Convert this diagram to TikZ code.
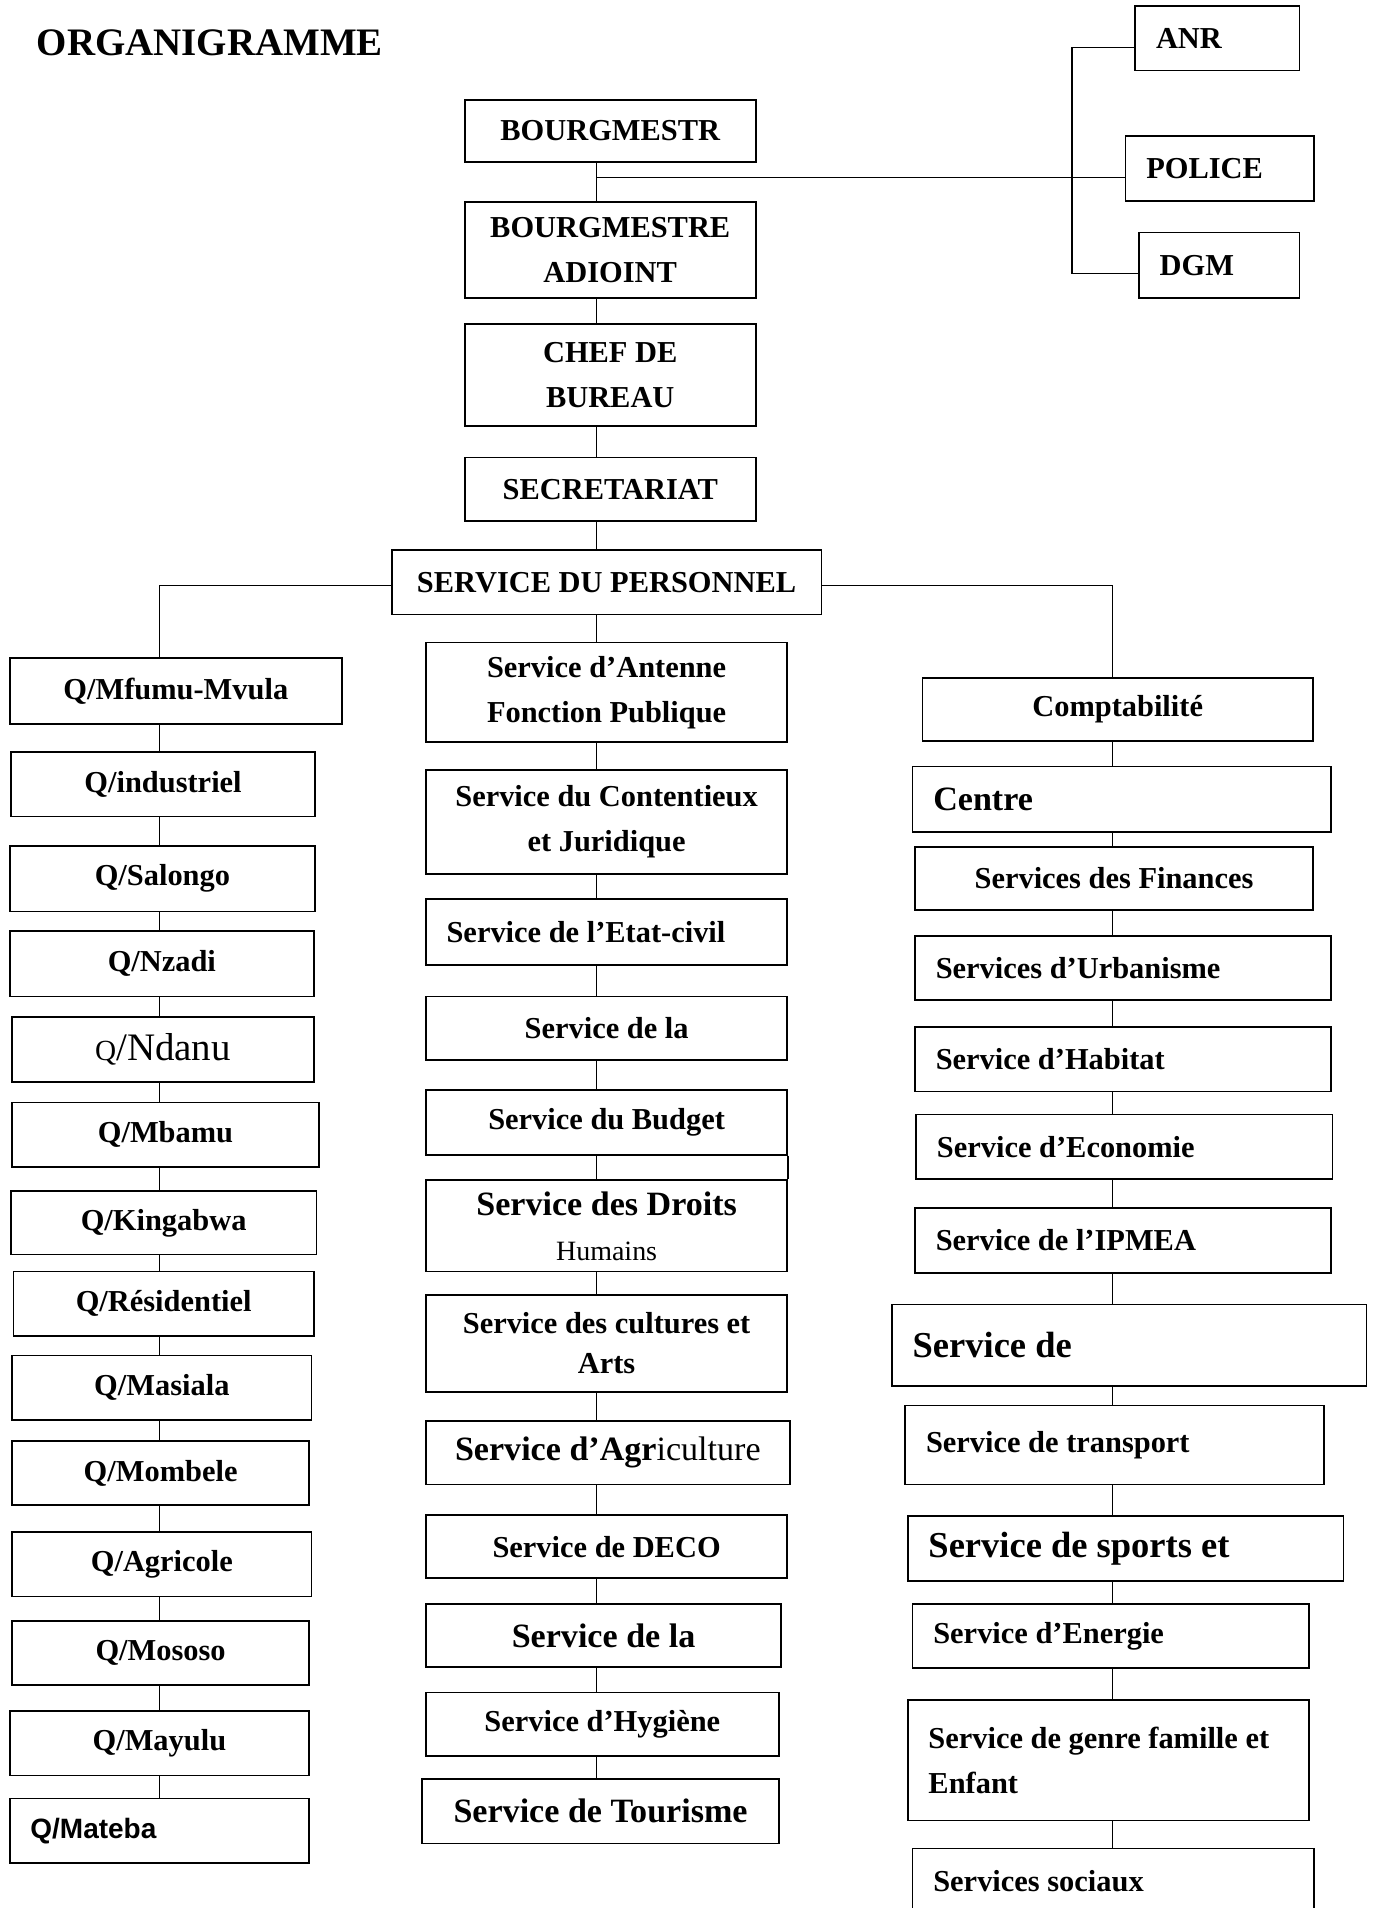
\documentclass[tikz,border=0pt]{standalone}
\usepackage{fontspec}
\setmainfont{Liberation Serif}
\setsansfont{Liberation Sans}

\begin{document}
\begin{tikzpicture}[
  x=1pt, y=-1pt,
  box/.style 2 args={draw, line width=1.4pt, inner sep=0pt, minimum width=#1, minimum height=#2, align=center, font=\bfseries\fontsize{25}{37}\selectfont},
  lbox/.style 2 args={box={#1}{#2}, text width=#1-34, align=flush left},
  big/.style={font=\bfseries\fontsize{28}{37}\selectfont},
  link/.style={line width=1.1pt},
]
  \useasboundingbox (0,0) rectangle (1131,1568);

  % Title
  \node[font=\bfseries\fontsize{32}{32}\selectfont, anchor=west, inner sep=0pt] (title) at (30,35) {ORGANIGRAMME};

  % Top of the chart
  \node[box={239}{51}] (bourg) at (501.5,107.5) {BOURGMESTR};
  \node[box={239}{79}] (adjoint) at (501.5,205.5) {BOURGMESTRE\\ADIOINT};
  \node[box={239}{84}] (chef) at (501.5,308) {CHEF DE\\BUREAU};
  \node[box={239}{52}] (secret) at (501.5,402) {SECRETARIAT};
  \node[box={353}{53}] (perso) at (498.5,478.5) {SERVICE DU PERSONNEL};

  \node[lbox={135}{53}] (anr) at (1000.5,31.5) {ANR};
  \node[lbox={155}{53}] (police) at (1002.5,138.5) {POLICE};
  \node[lbox={132}{54}] (dgm) at (1002,218) {DGM};

  % Quartiers
  \node[box={273}{54}] (mfumu) at (144.5,568) {Q/Mfumu-Mvula};
  \node[box={250}{53}] (indus) at (134,644.5) {Q/industriel};
  \node[box={251}{54}] (salongo) at (133.5,722) {Q/Salongo};
  \node[box={250}{54}] (nzadi) at (133,792) {Q/Nzadi};
  \node[box={248}{53}, font=\fontsize{32}{32}\selectfont] (ndanu) at (134,862.5) {{\fontsize{24}{24}\selectfont Q}/Ndanu};
  \node[box={252}{53}] (mbamu) at (136,932.5) {Q/Mbamu};
  \node[box={251}{52}] (kinga) at (134.5,1005) {Q/Kingabwa};
  \node[box={247}{53}] (resid) at (134.5,1071.5) {Q/Résidentiel};
  \node[box={246}{53}] (masiala) at (133,1140.5) {Q/Masiala};
  \node[box={244}{53}] (mombele) at (132,1210.5) {Q/Mombele};
  \node[box={246}{53}] (agricole) at (133,1285.5) {Q/Agricole};
  \node[box={244}{53}] (mososo) at (132,1358.5) {Q/Mososo};
  \node[box={246}{53}] (mayulu) at (131,1432.5) {Q/Mayulu};
  \node[lbox={246}{53}, font=\sffamily\bfseries\fontsize{23}{23}\selectfont] (mateba) at (131,1504.5) {Q/Mateba};

  % Services (middle)
  \node[box={297}{82}] (antenne) at (498.5,569) {Service d’Antenne\\Fonction Publique};
  \node[box={297}{85}] (content) at (498.5,675.5) {Service du Contentieux\\et Juridique};
  \node[lbox={297}{54}] (etat) at (498.5,766) {Service de l’Etat-civil};
  \node[box={297}{52}] (lala) at (498.5,845) {Service de la};
  \node[box={297}{53}] (budget) at (498.5,922.5) {Service du Budget};
  \node[box={297}{75}] (droits) at (498.5,1007.5) {{\fontsize{28}{32}\selectfont Service des Droits}\\{\mdseries\fontsize{23}{32}\selectfont Humains}};
  \node[box={297}{80}, font=\bfseries\fontsize{25}{33}\selectfont] (cultures) at (498.5,1104) {Service des cultures et\\Arts};
  \node[box={299}{52}, big] (agri) at (499.5,1194) {Service d’Agr{\mdseries iculture}};
  \node[box={297}{52}] (deco) at (498.5,1271) {Service de DECO};
  \node[box={292}{52}, big] (lalab) at (496,1344) {Service de la};
  \node[box={290}{52}] (hygiene) at (495,1417) {Service d’Hygiène};
  \node[box={293}{53}, big] (tourisme) at (493.5,1488.5) {Service de Tourisme};

  % Services (right)
  \node[box={321}{52}] (compta) at (918.5,583) {Comptabilité};
  \node[lbox={344}{54}, big] (centre) at (922,657) {Centre};
  \node[box={327}{52}] (finances) at (915.5,722) {Services des Finances};
  \node[lbox={342}{53}] (urban) at (923,795.5) {Services d’Urbanisme};
  \node[lbox={342}{53}] (habitat) at (923,870.5) {Service d’Habitat};
  \node[lbox={342}{53}] (econ) at (924,942.5) {Service d’Economie};
  \node[lbox={342}{53}] (ipmea) at (923,1019.5) {Service de l’IPMEA};
  \node[lbox={390}{67}, font=\bfseries\fontsize{30}{37}\selectfont] (servde) at (928,1105.5) {Service de};
  \node[lbox={344}{65}] (transport) at (916,1187.5) {Service de transport};
  \node[lbox={358}{53}, font=\bfseries\fontsize{30}{37}\selectfont] (sports) at (925,1272.5) {Service de sports et};
  \node[lbox={326}{53}] (energie) at (913,1344.5) {Service d’Energie};
  \node[lbox={330}{99}] (genre) at (911,1446.5) {Service de genre famille et\\Enfant};
  \node[lbox={330}{53}] (sociaux) at (915,1545.5) {Services sociaux};

  % Connectors
  \coordinate (stem) at (490,146);
  \coordinate (lx) at (131,481);
  \coordinate (rx) at (914,481);
  \coordinate (brktop) at (881,39);
  \coordinate (brkbot) at (881,225);

  \draw[link] (bourg.south -| stem) -- (adjoint.north -| stem)
    (adjoint.south -| stem) -- (chef.north -| stem)
    (chef.south -| stem) -- (secret.north -| stem)
    (secret.south -| stem) -- (perso.north -| stem);
  \draw[link] (stem) -- (police.west |- stem);
  \draw[link] (anr.west |- brktop) -- (brktop) -- (brkbot) -- (dgm.west |- brkbot);

  \draw[link] (perso.west |- lx) -- (lx) -- (mfumu.north -| lx);
  \draw[link] (perso.east |- rx) -- (rx) -- (compta.north -| rx);
  \draw[link] (perso.south -| stem) -- (antenne.north -| stem);

  \draw[link] (mfumu.south -| lx) -- (indus.north -| lx)
    (indus.south -| lx) -- (salongo.north -| lx)
    (salongo.south -| lx) -- (nzadi.north -| lx)
    (nzadi.south -| lx) -- (ndanu.north -| lx)
    (ndanu.south -| lx) -- (mbamu.north -| lx)
    (mbamu.south -| lx) -- (kinga.north -| lx)
    (kinga.south -| lx) -- (resid.north -| lx)
    (resid.south -| lx) -- (masiala.north -| lx)
    (masiala.south -| lx) -- (mombele.north -| lx)
    (mombele.south -| lx) -- (agricole.north -| lx)
    (agricole.south -| lx) -- (mososo.north -| lx)
    (mososo.south -| lx) -- (mayulu.north -| lx)
    (mayulu.south -| lx) -- (mateba.north -| lx);

  \draw[link] (antenne.south -| stem) -- (content.north -| stem)
    (content.south -| stem) -- (etat.north -| stem)
    (etat.south -| stem) -- (lala.north -| stem)
    (lala.south -| stem) -- (budget.north -| stem)
    (budget.south -| stem) -- (droits.north -| stem)
    (droits.south -| stem) -- (cultures.north -| stem)
    (cultures.south -| stem) -- (agri.north -| stem)
    (agri.south -| stem) -- (deco.north -| stem)
    (deco.south -| stem) -- (lalab.north -| stem)
    (lalab.south -| stem) -- (hygiene.north -| stem)
    (hygiene.south -| stem) -- (tourisme.north -| stem);
  \draw[link] (budget.south east) -- (droits.north east);

  \draw[link] (compta.south -| rx) -- (centre.north -| rx)
    (centre.south -| rx) -- (finances.north -| rx)
    (finances.south -| rx) -- (urban.north -| rx)
    (urban.south -| rx) -- (habitat.north -| rx)
    (habitat.south -| rx) -- (econ.north -| rx)
    (econ.south -| rx) -- (ipmea.north -| rx)
    (ipmea.south -| rx) -- (servde.north -| rx)
    (servde.south -| rx) -- (transport.north -| rx)
    (transport.south -| rx) -- (sports.north -| rx)
    (sports.south -| rx) -- (energie.north -| rx)
    (energie.south -| rx) -- (genre.north -| rx)
    (genre.south -| rx) -- (sociaux.north -| rx);

\end{tikzpicture}
\end{document}
